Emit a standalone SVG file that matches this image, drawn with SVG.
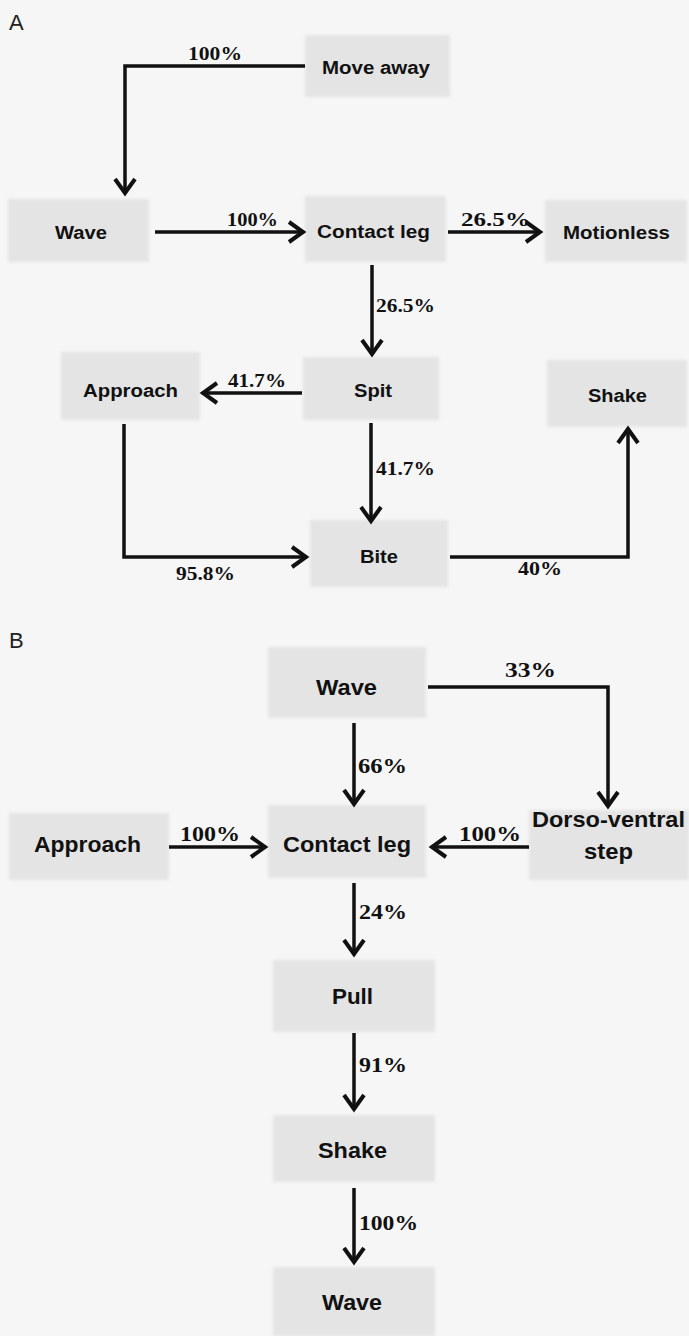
<svg xmlns="http://www.w3.org/2000/svg" width="689" height="1336" viewBox="0 0 689 1336">
<style>
.box{fill:#e4e4e4;filter:url(#soft)}
.nA{font-family:"Liberation Sans",Arial,sans-serif;font-weight:bold;font-size:18px;fill:#111}
.nB{font-family:"Liberation Sans",Arial,sans-serif;font-weight:bold;font-size:22px;fill:#111}
.pA{font-family:"Liberation Serif","Times New Roman",serif;font-weight:bold;font-size:19px;fill:#111}
.pB{font-family:"Liberation Serif","Times New Roman",serif;font-weight:bold;font-size:21px;fill:#111}
.panel{font-family:"Liberation Sans",Arial,sans-serif;font-size:22px;fill:#222}
.edge{fill:none;stroke:#111;stroke-width:3.5;marker-end:url(#arr)}
</style>
<defs>
<filter id="soft" x="-10%" y="-10%" width="120%" height="120%"><feGaussianBlur stdDeviation="1.5"/></filter>
<marker id="arr" markerUnits="userSpaceOnUse" markerWidth="26" markerHeight="26" refX="18" refY="12" orient="auto">
<path d="M3,2 L17,12 L3,22" fill="none" stroke="#111" stroke-width="4"/>
</marker>
</defs>
<rect width="689" height="1336" fill="#f6f6f6"/>
<text class="panel" x="9" y="30">A</text>
<text class="panel" x="9" y="648">B</text>

<g id="a_moveaway"><rect class="box" x="305" y="35" width="145" height="62"/><text class="nA" x="322" y="74" textLength="108" lengthAdjust="spacingAndGlyphs">Move away</text></g>
<g id="a_wave"><rect class="box" x="8" y="199" width="141" height="63"/><text class="nA" x="55" y="239" textLength="52" lengthAdjust="spacingAndGlyphs">Wave</text></g>
<g id="a_contact"><rect class="box" x="305" y="196" width="141" height="66"/><text class="nA" x="317" y="238" textLength="113" lengthAdjust="spacingAndGlyphs">Contact leg</text></g>
<g id="a_motionless"><rect class="box" x="545" y="200" width="142" height="62"/><text class="nA" x="563" y="239" textLength="107" lengthAdjust="spacingAndGlyphs">Motionless</text></g>
<g id="a_approach"><rect class="box" x="61" y="352" width="139" height="68"/><text class="nA" x="83" y="397" textLength="95" lengthAdjust="spacingAndGlyphs">Approach</text></g>
<g id="a_spit"><rect class="box" x="303" y="357" width="136" height="63"/><text class="nA" x="354" y="397" textLength="38" lengthAdjust="spacingAndGlyphs">Spit</text></g>
<g id="a_shake"><rect class="box" x="547" y="360" width="140" height="67"/><text class="nA" x="588" y="402" textLength="59" lengthAdjust="spacingAndGlyphs">Shake</text></g>
<g id="a_bite"><rect class="box" x="310" y="520" width="138" height="67"/><text class="nA" x="360" y="563" textLength="38" lengthAdjust="spacingAndGlyphs">Bite</text></g>

<g id="b_wave1"><rect class="box" x="268" y="647" width="158" height="71"/><text class="nB" x="316" y="695" textLength="61" lengthAdjust="spacingAndGlyphs">Wave</text></g>
<g id="b_approach"><rect class="box" x="9" y="813" width="160" height="67"/><text class="nB" x="34" y="852" textLength="107" lengthAdjust="spacingAndGlyphs">Approach</text></g>
<g id="b_contact"><rect class="box" x="268" y="805" width="158" height="73"/><text class="nB" x="283" y="852" textLength="128" lengthAdjust="spacingAndGlyphs">Contact leg</text></g>
<g id="b_dorso"><rect class="box" x="529" y="810" width="160" height="70"/><text class="nB" x="532" y="827" textLength="153" lengthAdjust="spacingAndGlyphs">Dorso-ventral</text><text class="nB" x="584" y="859" textLength="49" lengthAdjust="spacingAndGlyphs">step</text></g>
<g id="b_pull"><rect class="box" x="273" y="960" width="162" height="72"/><text class="nB" x="332" y="1004" textLength="41" lengthAdjust="spacingAndGlyphs">Pull</text></g>
<g id="b_shake"><rect class="box" x="273" y="1115" width="162" height="67"/><text class="nB" x="318" y="1158" textLength="69" lengthAdjust="spacingAndGlyphs">Shake</text></g>
<g id="b_wave2"><rect class="box" x="273" y="1267" width="162" height="69"/><text class="nB" x="322" y="1310" textLength="60" lengthAdjust="spacingAndGlyphs">Wave</text></g>

<g id="connectors">
<path class="edge" d="M305,66 H125 V194"/>
<path class="edge" d="M155,232 H304"/>
<path class="edge" d="M448,232 H541"/>
<path class="edge" d="M372,265 V355"/>
<path class="edge" d="M302,393 H202"/>
<path class="edge" d="M371,423 V522"/>
<path class="edge" d="M124,424 V557 H307"/>
<path class="edge" d="M450,557 H628 V428"/>
<path class="edge" d="M428,687 H608 V807"/>
<path class="edge" d="M354,723 V805"/>
<path class="edge" d="M169,847 H266"/>
<path class="edge" d="M529,847 H431"/>
<path class="edge" d="M354,883 V955"/>
<path class="edge" d="M354,1033 V1110"/>
<path class="edge" d="M354,1188 V1263"/>
<text class="pA" x="188" y="60" textLength="54" lengthAdjust="spacingAndGlyphs">100%</text>
<text class="pA" x="227" y="226" textLength="51" lengthAdjust="spacingAndGlyphs">100%</text>
<text class="pA" x="461" y="226" textLength="69" lengthAdjust="spacingAndGlyphs">26.5%</text>
<text class="pA" x="376" y="312" textLength="59" lengthAdjust="spacingAndGlyphs">26.5%</text>
<text class="pA" x="228" y="387" textLength="58" lengthAdjust="spacingAndGlyphs">41.7%</text>
<text class="pA" x="376" y="475" textLength="59" lengthAdjust="spacingAndGlyphs">41.7%</text>
<text class="pA" x="176" y="580" textLength="59" lengthAdjust="spacingAndGlyphs">95.8%</text>
<text class="pA" x="518" y="575" textLength="44" lengthAdjust="spacingAndGlyphs">40%</text>
<text class="pB" x="505" y="677" textLength="51" lengthAdjust="spacingAndGlyphs">33%</text>
<text class="pB" x="358" y="773" textLength="49" lengthAdjust="spacingAndGlyphs">66%</text>
<text class="pB" x="180" y="841" textLength="60" lengthAdjust="spacingAndGlyphs">100%</text>
<text class="pB" x="459" y="841" textLength="62" lengthAdjust="spacingAndGlyphs">100%</text>
<text class="pB" x="359" y="919" textLength="48" lengthAdjust="spacingAndGlyphs">24%</text>
<text class="pB" x="359" y="1072" textLength="48" lengthAdjust="spacingAndGlyphs">91%</text>
<text class="pB" x="359" y="1230" textLength="59" lengthAdjust="spacingAndGlyphs">100%</text>
</g>
</svg>
